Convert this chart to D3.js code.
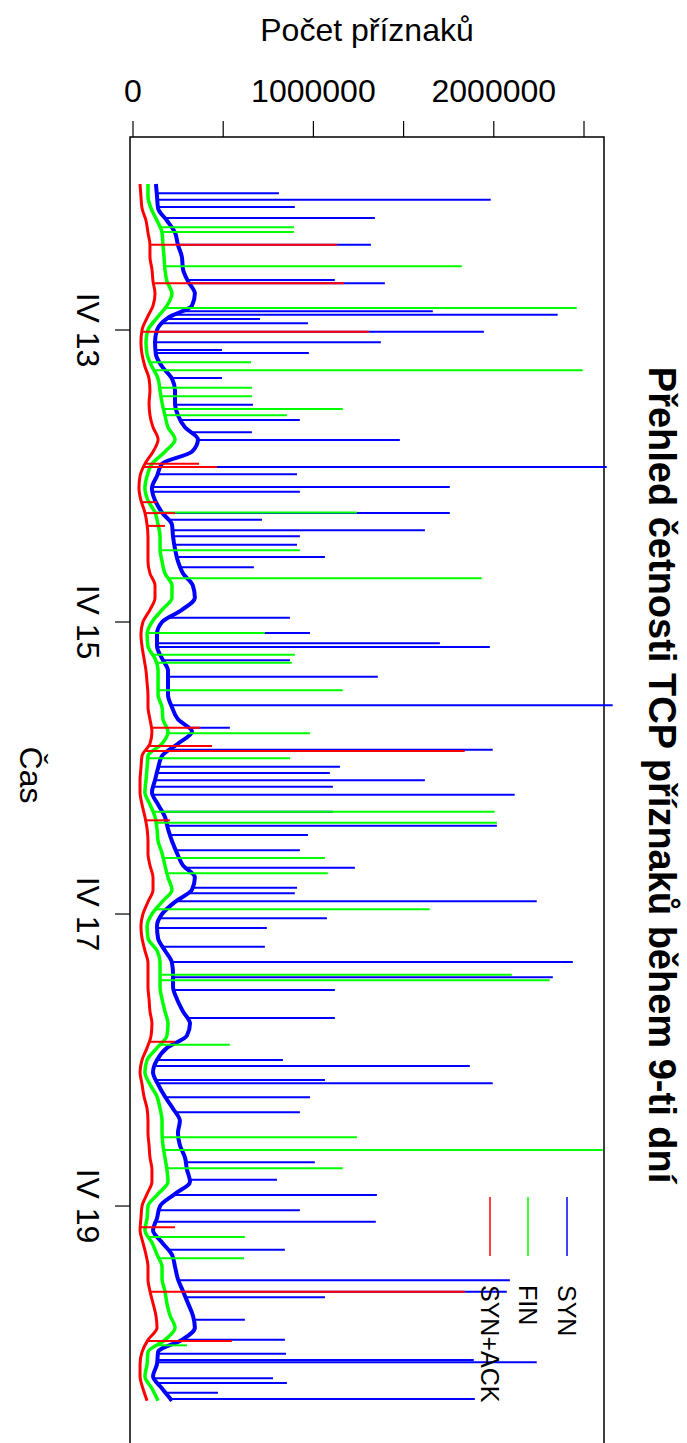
<!DOCTYPE html>
<html>
<head>
<meta charset="utf-8">
<script src="https://cdn.jsdelivr.net/npm/d3@7"></script>
<style>
  body { margin: 0; background: #fff; }
  text { font-family: "Liberation Sans", Arial, sans-serif; fill: #000; }
</style>
</head>
<body>
<svg id="chart" width="687" height="1443"></svg>
<script>
// base counts (thousands) every 2 hours from IV 12 00:00
var synBase = [
  127,133,139,188,233,249,271,277,305,343,327,194,
  133,122,127,161,216,233,233,249,288,360,327,161,
  133,105,122,161,216,222,233,249,277,332,343,271,
  161,133,133,161,194,194,194,216,249,327,249,161,
  139,122,105,139,177,194,216,244,277,343,327,233,
  161,133,139,177,216,222,222,244,277,316,299,188,
  133,111,139,177,222,260,249,260,288,299,316,233,
  150,133,111,161,216,233,249,277,305,332,343,271,
  139,133,111,161,216
];
var finBase = [
  83,83,100,133,161,166,172,177,188,216,188,133,
  83,72,78,105,139,150,161,177,194,233,177,105,
  78,66,83,122,139,150,150,161,177,216,216,161,
  105,78,83,122,139,139,139,161,166,194,161,83,
  78,72,66,94,122,133,139,161,177,194,216,161,
  105,78,83,133,150,150,150,161,177,194,188,133,
  78,66,94,133,150,161,161,166,177,188,194,139,
  83,78,66,105,133,161,161,177,188,205,233,177,
  83,78,66,105,139
];
var synAckBase = [
  39,44,50,72,83,94,94,105,111,122,111,78,
  50,44,50,66,89,94,89,94,111,139,111,66,
  39,33,44,66,78,83,83,83,94,122,122,94,
  55,44,50,61,72,78,83,83,94,105,94,50,
  44,39,39,50,66,78,83,83,94,111,111,83,
  55,44,50,66,83,83,83,89,94,105,100,78,
  50,39,50,61,78,83,83,89,94,105,105,78,
  50,44,39,55,72,83,83,94,111,127,133,83,
  50,39,39,55,78
];
var baseHours = d3.range(0, 201, 2);

// single-sample bursts: [hour, count in thousands]
var synSpikes = [
  [1.5,809],[2.6,1983],[3.8,897],[5.6,1341],[10.0,1319],[15.8,1119],[16.3,1396],
  [20.9,1662],[21.5,2354],[22.2,704],[22.9,970],[24.3,1945],[26.0,1374],[27.3,493],
  [27.8,975],[31.9,493],[36.3,665],[38.8,925],[40.8,659],[42.1,1479],[46.5,2626],
  [47.7,909],[49.8,1756],[50.6,925],[54.1,1756],[55.2,715],[56.9,1618],[57.9,925],
  [59.3,909],[61.3,1064],[63.0,670],[71.3,870],[73.8,981],[75.5,1701],[76.1,1978],
  [78.3,870],[81.0,1357],[85.7,2659],[89.4,537],[93.0,1994],[95.8,1147],[96.8,1091],
  [98.0,1618],[99.1,1108],[100.4,2116],[103.2,1108],[105.5,2017],[107.0,970],
  [109.5,925],[112.4,1230],[115.7,909],[116.6,897],[117.9,2238],[120.7,1075],
  [122.3,742],[125.4,731],[127.9,2438],[130.4,2327],[132.5,1119],[137.1,1119],
  [144.0,831],[145.0,1867],[147.3,1064],[147.8,1994],[150.1,981],[152.6,925],
  [160.8,1008],[163.7,798],[166.2,1352],[168.7,925],[170.6,1346],[175.2,842],
  [180.2,2089],[182.1,2072],[183.0,1064],[186.7,620],[190.0,842],[192.3,848],
  [193.3,1889],[193.7,2238],[196.3,776],[197.1,853],[198.7,471],[199.7,1895]
];
var finSpikes = [
  [7.1,892],[7.9,892],[13.5,1823],[20.4,2460],[29.3,654],[30.6,2493],[33.5,659],
  [34.9,659],[37.0,1163],[38.0,853],[54.0,1241],[60.2,925],[64.8,1933],[73.8,731],
  [77.4,897],[78.7,880],[83.2,1163],[90.3,981],[94.4,870],[103.2,2005],[105.0,2017],
  [110.8,1064],[113.3,1080],[119.2,1645],[130.0,2100],[130.9,2310],[141.5,537],
  [156.7,1241],[158.8,2604],[161.8,1163],[173.1,620],[176.6,615],[190.9,299]
];
var synAckSpikes = [
  [10.0,1130],[16.3,1169],[24.3,1307],[46.0,366],[46.5,465],[52.3,133],[54.1,233],
  [56.2,177],[89.4,371],[92.4,438],[93.2,1839],[104.6,205],[141.0,233],[171.5,233],
  [182.1,1839],[190.2,548]
];

var countTicks = [0, 500000, 1000000, 1500000, 2000000, 2500000];
var countLabels = ["0", "", "1000000", "", "2000000", ""];
var dayHours = [24, 72, 120, 168];
var dayLabels = ["IV 13", "IV 15", "IV 17", "IV 19"];
var seriesNames = ["SYN", "FIN", "SYN+ACK"];
var seriesColors = ["#0000ff", "#00ff00", "#ff0000"];
var baseWidths = [4, 3.5, 3];

var svg = d3.select("#chart");

var x = d3.scaleLinear().domain([0, 2500000]).range([133, 584]);
var y = d3.scaleLinear().domain([0, 200]).range([184, 1400.7]);

// plot box
svg.append("rect")
    .attr("x", 130).attr("y", 137)
    .attr("width", 474).attr("height", 1340)
    .attr("fill", "none").attr("stroke", "#000").attr("stroke-width", 1.5);

// count axis (top)
var countAxis = svg.append("g");
countAxis.selectAll("line").data(countTicks).enter().append("line")
    .attr("x1", function(d) { return x(d); }).attr("x2", function(d) { return x(d); })
    .attr("y1", 121).attr("y2", 137)
    .attr("stroke", "#000").attr("stroke-width", 1.2);
countAxis.selectAll("text").data(countTicks).enter().append("text")
    .attr("x", function(d) { return x(d); })
    .attr("y", 102)
    .attr("text-anchor", "middle")
    .style("font-size", "32px")
    .text(function(d, i) { return countLabels[i]; });

// time axis (left)
var timeAxis = svg.append("g");
timeAxis.selectAll("line").data(dayHours).enter().append("line")
    .attr("x1", 115).attr("x2", 130)
    .attr("y1", function(d) { return y(d); }).attr("y2", function(d) { return y(d); })
    .attr("stroke", "#000").attr("stroke-width", 1.2);
timeAxis.selectAll("text").data(dayHours).enter().append("text")
    .attr("transform", function(d) { return "translate(88," + y(d) + ") rotate(90)"; })
    .attr("text-anchor", "middle")
    .attr("dy", ".35em")
    .style("font-size", "32px")
    .text(function(d, i) { return dayLabels[i]; });

svg.append("text")
    .attr("x", 367).attr("y", 41)
    .attr("text-anchor", "middle")
    .style("font-size", "32px")
    .text("Počet příznaků");

svg.append("text")
    .attr("transform", "translate(31,775) rotate(90)")
    .attr("text-anchor", "middle")
    .attr("dy", ".35em")
    .style("font-size", "32px")
    .text("Čas");

svg.append("text")
    .attr("transform", "translate(662,775) rotate(90)")
    .attr("text-anchor", "middle")
    .attr("dy", ".35em")
    .style("font-size", "38px")
    .style("font-weight", "bold")
    .text("Přehled četnosti TCP příznaků během 9-ti dní");

// series
var series = [
  {base: synBase, spikes: synSpikes},
  {base: finBase, spikes: finSpikes},
  {base: synAckBase, spikes: synAckSpikes}
];

var line = d3.line()
    .x(function(d) { return x(d[1] * 1000); })
    .y(function(d) { return y(d[0]); })
    .curve(d3.curveMonotoneY);

function baseAt(base, h) {
  var i = Math.min(Math.floor(h / 2), base.length - 2);
  var t = (h - baseHours[i]) / 2;
  return base[i] + (base[i + 1] - base[i]) * Math.max(0, Math.min(1, t));
}

series.forEach(function(s, k) {
  var g = svg.append("g");
  g.selectAll("line").data(s.spikes).enter().append("line")
      .attr("x1", function(d) { return x(baseAt(s.base, d[0]) * 1000); })
      .attr("x2", function(d) { return x(d[1] * 1000); })
      .attr("y1", function(d) { return y(d[0]); })
      .attr("y2", function(d) { return y(d[0]); })
      .attr("stroke", seriesColors[k])
      .attr("stroke-width", 2);
  g.append("path")
      .datum(baseHours.map(function(h, i) { return [h, s.base[i]]; }))
      .attr("d", line)
      .attr("fill", "none")
      .attr("stroke", seriesColors[k])
      .attr("stroke-width", baseWidths[k]);
});

// legend
var legX = [567, 528, 490];
var leg = svg.append("g");
leg.selectAll("line").data(seriesNames).enter().append("line")
    .attr("x1", function(d, i) { return legX[i]; })
    .attr("x2", function(d, i) { return legX[i]; })
    .attr("y1", 1197).attr("y2", 1256)
    .attr("stroke", function(d, i) { return seriesColors[i]; })
    .attr("stroke-width", 1.5);
leg.selectAll("text").data(seriesNames).enter().append("text")
    .attr("transform", function(d, i) { return "translate(" + legX[i] + ",1285) rotate(90)"; })
    .attr("dy", ".35em")
    .style("font-size", "25px")
    .text(function(d) { return d; });
</script>
</body>
</html>
